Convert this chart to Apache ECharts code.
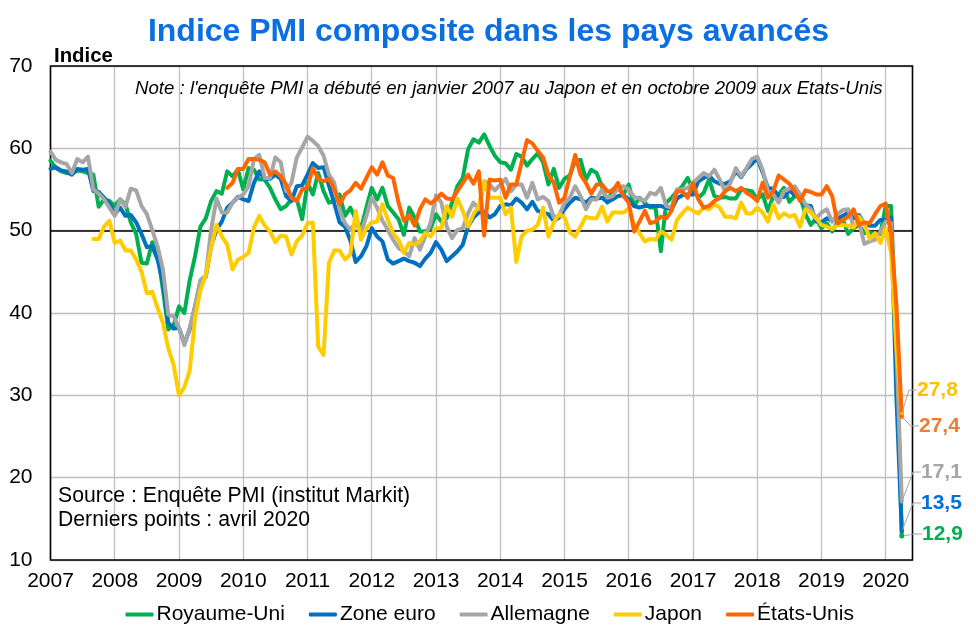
<!DOCTYPE html>
<html>
<head>
<meta charset="utf-8">
<style>html,body{margin:0;padding:0;background:#fff}#c{width:976px;height:638px}</style>
<script src="https://cdn.jsdelivr.net/npm/echarts@6/dist/echarts.min.js"></script>
</head>
<body>
<div id="c"></div>
<script>
const years = [2007,2008,2009,2010,2011,2012,2013,2014,2015,2016,2017,2018,2019,2020];
const royaumeUni = [
58.5,57.6,57.2,57,56.9,57.3,57.2,57,56.8,52.9,53.8,53.6,
53,53.8,53.2,51,49.6,46.1,46,48.6,47.3,42.8,38,38.5,
40.8,40,44,46.9,50.5,51.5,53.6,54.8,54.5,57.2,56.6,57.4,
55,57.6,57.4,56.2,56.2,55.2,53.8,52.6,53,53.8,53.8,51.4,
55.8,54.4,57,54.8,53.4,53.6,54.4,51.8,52.8,51.4,50.3,52.8,
55.2,53.8,55.2,53,52.2,51.4,49.5,52.8,51.6,49.9,49.9,50.3,
52,51.1,51.5,53.4,55.4,56.4,59.9,61.1,60.7,61.7,60.3,59.1,
58.3,58.2,57.4,59.3,59,57.9,58.7,59.4,58.3,55.6,57.5,55.2,
56.3,56.7,58.5,58.6,56.2,57.4,57,55.4,53.4,55,55.2,54.4,
55.6,53,54,53.4,52.8,52.8,47.5,53.4,54,54.8,55.4,56.4,
55,54,54.6,56.2,54.2,54,54.1,53.9,53.9,55,54.9,54.8,
53.8,54.4,52.4,54.2,54.4,55.2,53.5,54.2,54.1,52,50.7,51.5,
50.3,50.9,49.9,51.1,51.3,49.6,50.3,50.7,49.7,49.8,49.5,49.6,
53,53,36,12.9];
const zoneEuro = [
57.5,57.7,57.3,57.2,56.8,57.5,57.4,57.5,54.8,54.7,54,53.3,
52,52.8,51.8,51.9,51,49.6,48,48.1,46.5,43.7,38.8,38.1,
38.2,36.3,38,40.8,43.8,44.4,48.1,50.1,51.1,52.8,53.4,54.1,
53.8,53.6,55.8,57.2,56.3,56.3,56.8,56.3,54.2,53.6,55.4,55.5,
56.8,58.2,57.6,57.7,55.5,53.3,51,50.5,48.8,46.2,46.9,48.1,
50.3,49.3,48.7,46.5,46,46.3,46.6,46.3,46.1,45.7,46.6,47.3,
48.6,47.7,46.3,46.9,47.5,48.3,50.5,51.6,52.2,52.3,51.6,52,
53,53.2,53.1,53.9,53.4,52.6,53.5,52.4,52.2,52,51.2,51.6,
52.6,53.4,54,53.8,53.4,54,53.9,54,53.5,53.8,54.2,54.3,
53.8,53,52.8,53,53,53,53,52.8,52.6,53.9,54.3,54.4,
54.4,56,56.4,56.7,56,55.7,55.7,56,57.2,56.5,57.5,58.1,
58.8,57.1,55.2,55.1,54.1,54.1,54.9,54.3,54.2,53.1,53,51.1,
51,51.5,51.2,51.5,51.8,52.2,51.5,51.9,50.9,50.6,50.6,51.3,
51.3,51.6,29.7,13.5];
const allemagne = [
59.6,58.6,58.3,58.1,57,58.7,58.3,59,55,54.5,53.8,52.8,
51.8,53.8,52.9,55.1,54.9,53,52,50.1,48.1,45.3,39.8,39.6,
38.2,36.1,38.2,40.8,44,44.5,50.1,53.9,52.2,52.2,53.4,54,
54.4,55.4,58.7,59.2,56.4,56.4,58.9,58.3,54.8,55.8,58.9,60.1,
61.4,60.9,60.3,59.1,56.8,55.8,52.5,50.9,50.1,51,49.7,51.8,
54,52.8,51.2,50.1,48.9,47.9,47.5,46.9,49.1,47.7,49.3,51,
54.3,53.4,50.5,49.1,50.1,50.3,52.1,53.4,52.6,56,55.6,54.9,
55.6,56.3,54.8,55.6,55.6,54,55.8,53.8,54.1,53.6,51.6,51.8,
53.4,54,55.4,54.2,52.6,53.8,53.8,55,54,54.2,55.2,55.4,
55,54.1,53.9,53.6,54.6,54.4,55.2,53,52.8,55,55,55.2,
55.8,56.4,57,56.6,57.4,56.2,54.8,55.8,57.6,56.6,57.6,58.7,
59,57.4,54.8,54.4,53.4,54.8,55.1,55.4,54.4,53.2,52.6,51.5,
52.2,52.6,51.1,52,52.5,52.6,50.5,51.1,48.4,48.7,48.9,49.9,
51.1,50.9,35.7,17.1];
const japon = [
null,null,null,null,null,null,null,null,49,49,50.5,51.2,
48.5,48.8,47.6,47.6,46.5,45,42.4,42.6,40.6,38.8,35.7,33.7,
30,31,33,39.4,42.8,44.6,47.9,50.7,49.3,48.3,45.3,46.5,
46.8,47.3,50.4,51.8,50.6,49.9,48.6,49.4,49.3,47.1,48.7,49.4,
50.9,51,35.9,34.9,46.1,47.6,47.6,46.5,47.1,52.4,48.9,50.3,
51,51.1,53.2,51.3,49.7,48.9,47.3,48.5,48.3,48.7,49.7,49.3,
50.3,50.3,53,51.7,53.9,52.4,50.5,52,53,56,54,54,
54,52,52.8,46.2,49.3,50,50.1,50.7,52.8,49.3,51,52,
51.6,49.8,49.3,50.5,51.7,51.5,51.5,52.9,51.1,52.2,52.2,52.2,
52.7,50.7,49.7,48.7,49,48.9,49.9,49.5,48.9,51.3,52.1,52.8,
52.4,52.1,52.8,52.6,53.2,52.8,51.7,51.7,51.5,53.4,52.1,52.1,
52.8,52.2,51.1,53.2,51.5,52.1,51.7,51.9,50.5,52.6,52.2,51.5,
50.7,50.5,50.2,50.7,50.7,50.6,50.4,51.7,50.9,49,49.7,48.5,
50.3,47.3,35.8,27.8];
const etatsUnis = [
null,null,null,null,null,null,null,null,null,null,null,null,
null,null,null,null,null,null,null,null,null,null,null,null,
null,null,null,null,null,null,null,null,null,55.2,55.8,57.5,
57.5,58.7,58.7,58.6,58.3,56.8,57.2,56.6,55.6,54,53.6,55,
55.2,57.6,56.3,56,56.3,55,53.2,54.4,54.9,55.8,55.1,56.4,
57.7,56.8,58.3,56.7,56.4,53.4,51.2,51.9,50.6,52.6,53.8,53.3,
53.8,54.5,53.9,53.8,54.8,55.8,56.8,55.7,57.2,49.4,56.2,56.1,
56.2,54,55.6,55.6,58.3,61,60.6,59.7,58.9,56.8,55.8,53.4,
54,56.6,59.2,56.8,55.8,54.5,55.6,55.6,54.8,54.8,55.8,54.2,
53.4,49.9,51.1,52.4,50.9,51.1,51.7,51.5,52.4,54.8,54.8,54,
55.8,53.8,52.8,53,53.6,54,54.8,55.2,54.8,55.2,54.6,54.2,
53.6,55.8,54,54.8,56.7,56.2,55.7,54.8,53.6,54.9,54.7,54.4,
54.4,55.4,54.2,50.9,51.3,51.7,52.6,50.7,51,50.9,52,53,
53.3,49.6,40.9,27.4];
const seriesNames = ['Royaume-Uni','Zone euro','Allemagne','Japon','États-Unis'];
const yTicks = [10,20,30,40,50,60,70];

const categories = [];
years.forEach(y => { for (let m = 1; m <= 12; m++) { if (y < 2020 || m <= 6) categories.push(y + '-' + String(m).padStart(2,'0')); } });

const FONT = '"Liberation Sans", Arial, sans-serif';
const lineColors = ['#00B050','#0070C0','#A6A6A6','#FFCC00','#FF6600'];
const labelColors = ['#00B050','#0070E0','#A6A6A6','#FFC000','#ED7D31'];
const labelPos = [
  {x:922,y:534},{x:921,y:503},{x:921,y:472},{x:917,y:390},{x:919,y:426}
];
const allData = [royaumeUni,zoneEuro,allemagne,japon,etatsUnis];

function fmt(v){ return String(v).replace('.',','); }

const series = allData.map((arr,i) => {
  const last = arr.length - 1;
  const data = arr.map((v,k) => k === last ? {
    value:v, symbol:'circle', symbolSize:i===0?5:3,
    label:{show:true, formatter:fmt(v), color:labelColors[i], fontSize:21, fontWeight:'bold', fontFamily:FONT}
  } : v);
  return {
    name: seriesNames[i], type:'line', data, symbol:'none', showSymbol:true, showAllSymbol:true,
    connectNulls:false, animation:false, silent:true,
    lineStyle:{color:lineColors[i], width:4, cap:'round', join:'round'},
    itemStyle:{color:lineColors[i]},
    labelLayout: {x:labelPos[i].x, y:labelPos[i].y, align:'left', verticalAlign:'middle', hideOverlap:false},
    labelLine:{show:true, length2:8, lineStyle:{color:'#A6A6A6', width:1}},
    markLine: i===0 ? {silent:true, symbol:'none', z:1, animation:false, label:{show:false},
      lineStyle:{color:'#000', width:1.5, type:'solid'}, data:[{yAxis:50}]} : undefined
  };
});

const chart = echarts.init(document.getElementById('c'), null, {renderer:'canvas'});
chart.setOption({
  backgroundColor:'#fff', animation:false,
  textStyle:{fontFamily:FONT},
  title:{text:'Indice PMI composite dans les pays avancés', left:483.5, textAlign:'center', top:11,
    textStyle:{color:'#0A6FE0', fontSize:32, fontWeight:'bold', fontFamily:FONT}},
  grid:{left:50.5, right:63.5, top:66, bottom:78, show:false},
  legend:{left:125.5, top:604, padding:0, itemWidth:28, itemHeight:4, itemGap:24, icon:'roundRect', data:seriesNames,
    textStyle:{fontSize:21, color:'#000', fontFamily:FONT, padding:[0,0,0,-2]}},
  xAxis:{type:'category', data:categories, boundaryGap:false,
    axisLine:{show:false}, axisTick:{show:false},
    axisLabel:{interval:11, fontSize:21, color:'#000', margin:11, fontFamily:FONT,
      formatter:v => v.slice(0,4)},
    splitLine:{show:true, interval:11, lineStyle:{color:'#BFBFBF', width:1.3}}},
  yAxis:{type:'value', min:10, max:70, interval:10,
    axisLine:{show:false}, axisTick:{show:false},
    axisLabel:{fontSize:21, color:'#000', margin:18, fontFamily:FONT, padding:[3,0,0,0], lineHeight:26},
    splitLine:{show:true, lineStyle:{color:'#BFBFBF', width:1.3}}},
  graphic:[
    {type:'rect', z:3, silent:true, shape:{x:50.5, y:66, width:862, height:494}, style:{fill:'none', stroke:'#000', lineWidth:1.6}},
    {type:'text', z:10, left:54, top:46, silent:true, style:{text:'Indice', fontSize:20.4, fontWeight:'bold', fill:'#000', fontFamily:FONT}},
    {type:'text', z:10, left:135, top:79, silent:true, style:{text:"Note : l'enquête PMI a débuté en janvier 2007 au Japon et en octobre 2009 aux Etats-Unis", fontSize:18.65, fontStyle:'italic', fill:'#000', fontFamily:FONT}},
    {type:'text', z:10, left:58, top:486, silent:true, style:{text:'Source : Enquête PMI (institut Markit)', fontSize:21.2, fill:'#000', fontFamily:FONT}},
    {type:'text', z:10, left:58, top:510, silent:true, style:{text:'Derniers points : avril 2020', fontSize:21.2, fill:'#000', fontFamily:FONT}}
  ],
  series
});
</script>
</body>
</html>
